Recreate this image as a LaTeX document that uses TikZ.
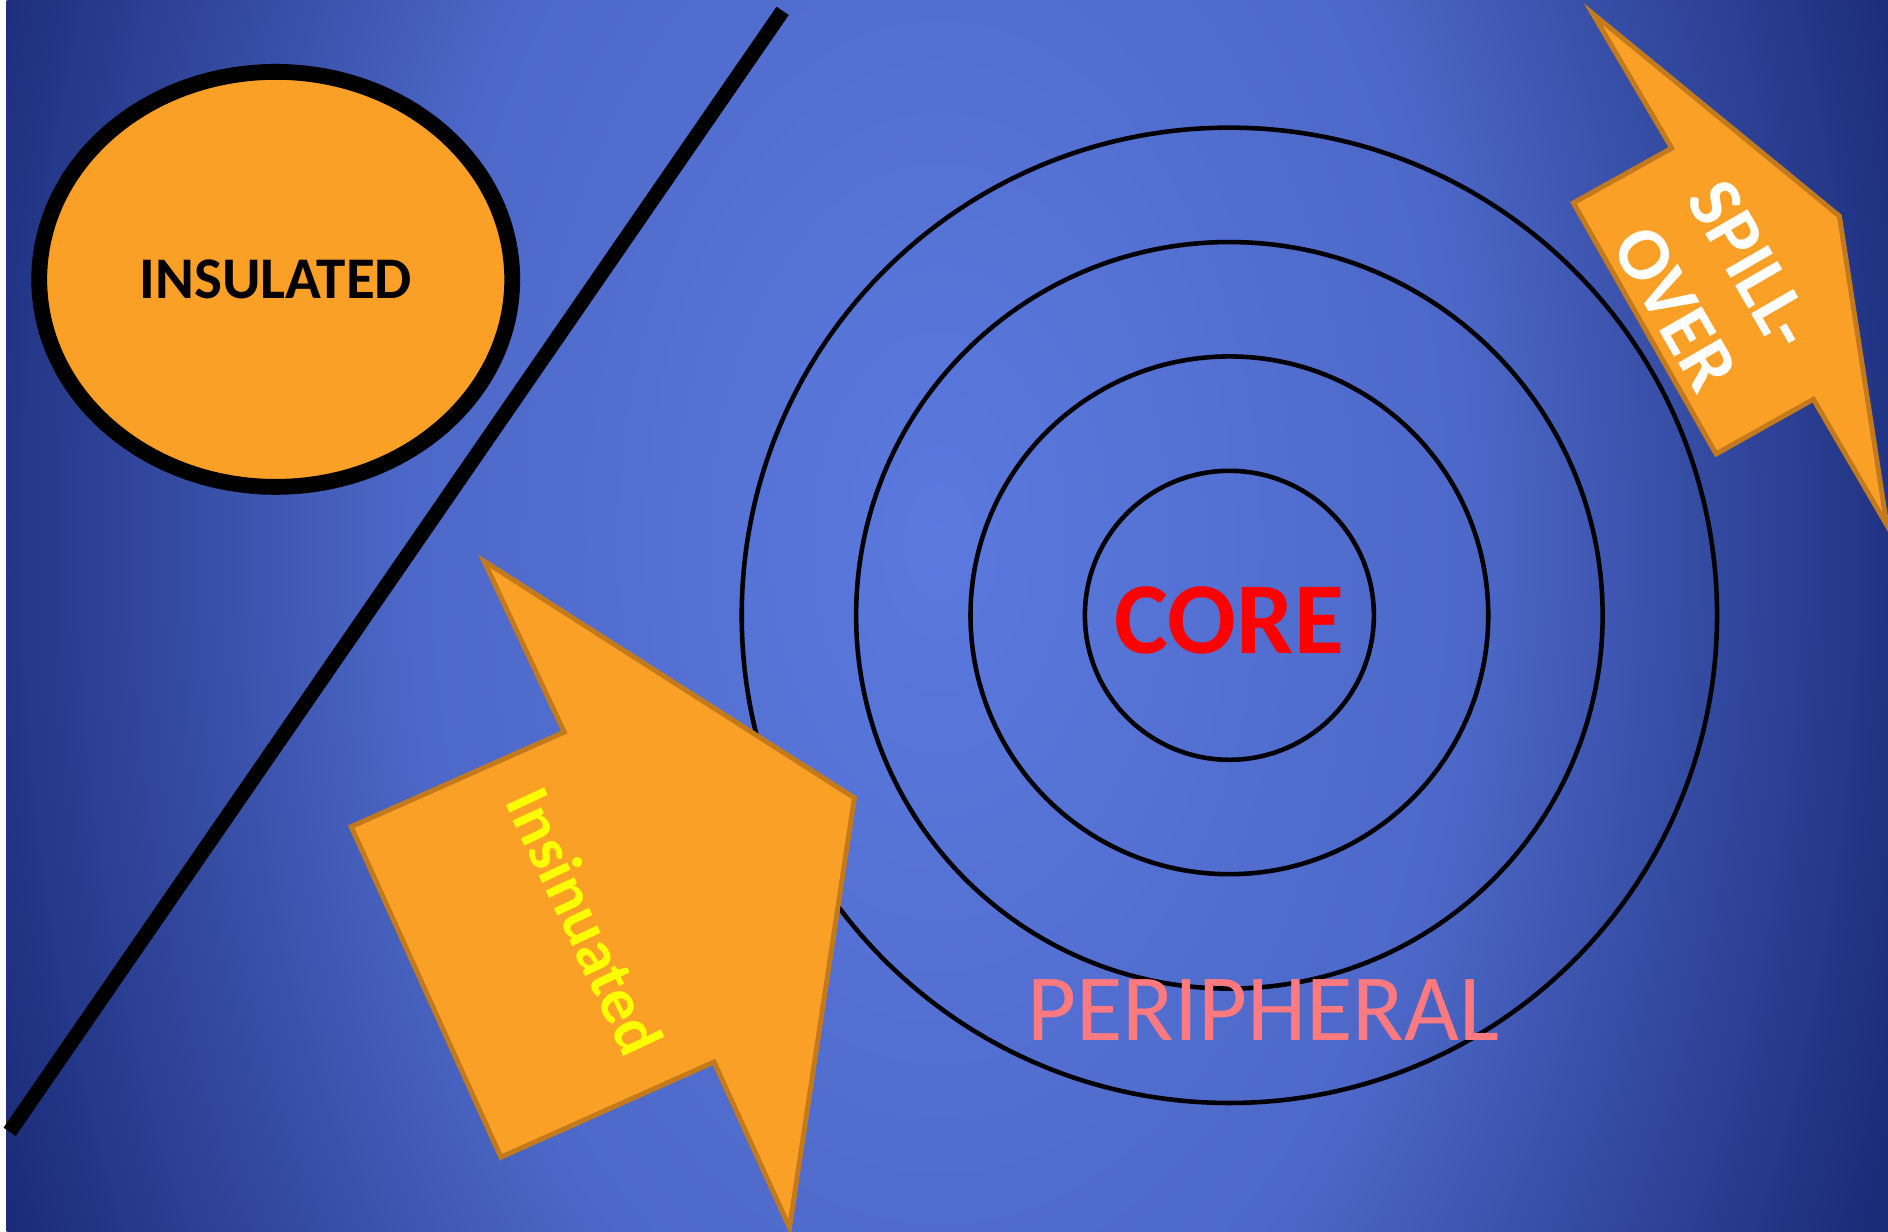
\documentclass[tikz,border=0pt]{standalone}
\usepackage{fontspec}
\setmainfont{Carlito}
\usepackage{tikz}
\usetikzlibrary{shapes.geometric}
\definecolor{bgin}{HTML}{5B79DE}
\definecolor{bgout}{HTML}{1A2B78}
\colorlet{bgmid}{bgin!78!bgout}
\definecolor{orng}{HTML}{FBA026}
\definecolor{orngedge}{HTML}{C27A1C}
\definecolor{corered}{HTML}{FF0000}
\definecolor{peri}{HTML}{FF7A80}
\definecolor{insin}{HTML}{FFFF00}
\pgfdeclareradialshading{bgglow}{\pgfpoint{0bp}{0bp}}{color(0bp)=(bgin); color(12bp)=(bgmid); color(23bp)=(bgout); color(50bp)=(bgout)}
\tikzset{
  ring/.style={draw=black, line width=1.3pt},
  divider/.style={draw=black, line width=4.2pt},
  blob/.style={ellipse, draw=black, fill=orng, line width=4.5pt, inner sep=0pt},
  arrowshape/.style={fill=orng, draw=orngedge, line width=1.4pt, line join=miter},
  lab/.style={inner sep=0pt},
}

\begin{document}
\begin{tikzpicture}[x=0.120408mm, y=-0.120408mm]
  \useasboundingbox (0,0) rectangle (1568,1022.4);
  \fill[white] (0,0) rectangle (1568,1022.4);
  \begin{scope}
    \clip (5.5,0) rectangle (1568,1022.4);
    \shade[shading=bgglow] (-140,-1050) rectangle (1700,1950);
  \end{scope}

  \coordinate (core) at (1021,511);
  \draw[ring] (core) circle (120);
  \draw[ring] (core) circle (215);
  \draw[ring] (core) circle (310);
  \draw[ring] (core) circle (405);

  \coordinate (cutA) at (8,940);
  \coordinate (cutB) at (650,9);
  \draw[divider] (cutA) -- (cutB);

  \node[blob, minimum width=47.3mm, minimum height=41.5mm,
        font=\fontsize{16.8}{20}\selectfont\bfseries] (insulated) at (229,232) {INSULATED};

  \coordinate (inA) at (402,466);
  \coordinate (inTip) at (709.6,662.6);
  \coordinate (inB) at (655.7,1019.5);
  \coordinate (inC) at (593,882);
  \coordinate (inD) at (416,961);
  \coordinate (inE) at (291.7,686.5);
  \coordinate (inF) at (468.6,608);
  \draw[arrowshape] (inA) -- (inTip) -- (inB) -- (inC) -- (inD) -- (inE) -- (inF) -- cycle;

  \coordinate (spA) at (1322.7,11.3);
  \coordinate (spTip) at (1527.6,179.4);
  \coordinate (spB) at (1567,436);
  \coordinate (spC) at (1506,331.6);
  \coordinate (spD) at (1425.2,377);
  \coordinate (spE) at (1306.7,168.5);
  \coordinate (spF) at (1388.4,123);
  \draw[arrowshape] (spA) -- (spTip) -- (spB) -- (spC) -- (spD) -- (spE) -- (spF) -- cycle;

  \node[lab, text=corered, font=\fontsize{29}{35}\selectfont\bfseries] (corelab) at (1021,515) {CORE};
  \node[lab, text=peri, anchor=base, font=\fontsize{27}{32}\selectfont] (peripheral) at (1049,864) {PERIPHERAL};
  \node[lab, text=insin, rotate=-65, font=\fontsize{18.5}{22}\selectfont\bfseries] (insinuated) at (486,765) {Insinuated};
  \node[lab, text=white, rotate=-60, align=center, font=\fontsize{21.5}{25}\selectfont\bfseries] (spillover) at (1423,238) {SPILL-\\OVER};
\end{tikzpicture}
\end{document}
